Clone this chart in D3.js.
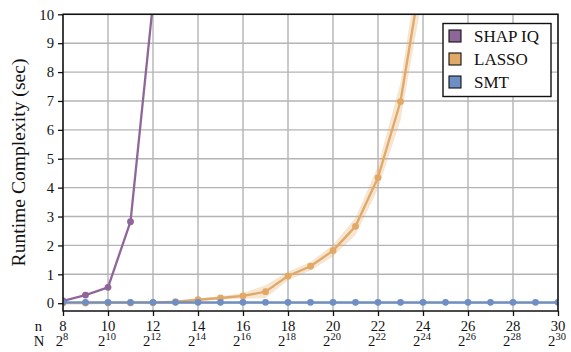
<!DOCTYPE html>
<html>
<head>
<meta charset="utf-8">
<script src="https://cdn.jsdelivr.net/npm/d3@7"></script>
<style>
  html, body { margin: 0; padding: 0; background: #fff; }
  svg { display: block; }
</style>
</head>
<body>
<svg id="chart" width="571" height="352"></svg>
<script>
// Problem size n (N = 2^n)
const nValues = d3.range(8, 31);
const xTickValues = [8, 10, 12, 14, 16, 18, 20, 22, 24, 26, 28, 30];
const yTickValues = [0, 1, 2, 3, 4, 5, 6, 7, 8, 9, 10];

// Runtime in seconds per method
const shapN = [8, 9, 10, 11, 12];
const shapTime = [0.08, 0.28, 0.55, 2.82, 10.4];

const lassoN = [8, 9, 10, 11, 12, 13, 14, 15, 16, 17, 18, 19, 20, 21, 22, 23, 24];
const lassoTime = [0.005, 0.005, 0.008, 0.01, 0.015, 0.05, 0.12, 0.18, 0.25, 0.40, 0.94, 1.28, 1.82, 2.66, 4.35, 6.98, 11.7];
const lassoStd = [0.005, 0.005, 0.005, 0.01, 0.01, 0.02, 0.04, 0.06, 0.1, 0.22, 0.15, 0.15, 0.2, 0.3, 0.4, 0.65, 1.0];

const smtN = nValues;
const smtTime = [0.03, 0.03, 0.03, 0.03, 0.03, 0.03, 0.03, 0.03, 0.03, 0.03, 0.03, 0.03, 0.03, 0.03, 0.03, 0.03, 0.03, 0.03, 0.03, 0.03, 0.03, 0.03, 0.03];

const seriesNames = ["SHAP IQ", "LASSO", "SMT"];
const seriesColors = ["#8e6699", "#e2a866", "#6d8fc6"];

const serif = "Liberation Serif";
const ink = "#111";

const svg = d3.select("#chart");
const plotLeft = 63, plotRight = 558, plotTop = 14.3, plotBottom = 311;

const x = d3.scaleLinear().domain([8, 30]).range([plotLeft, plotRight]);
const y = d3.scaleLinear().domain([-0.27, 10]).range([plotBottom, plotTop]);

svg.append("defs").append("clipPath").attr("id", "plotClip")
  .append("rect").attr("x", plotLeft).attr("y", plotTop)
  .attr("width", plotRight - plotLeft).attr("height", plotBottom - plotTop);

// Grid
const grid = svg.append("g").attr("stroke", "#b4b4b4").attr("stroke-width", 1.4);
grid.selectAll("line.v").data(xTickValues).join("line")
  .attr("x1", d => x(d)).attr("x2", d => x(d)).attr("y1", plotTop).attr("y2", plotBottom);
grid.selectAll("line.h").data(yTickValues).join("line")
  .attr("x1", plotLeft).attr("x2", plotRight).attr("y1", d => y(d)).attr("y2", d => y(d));

const plot = svg.append("g").attr("clip-path", "url(#plotClip)");

// LASSO spread band
const lassoRows = lassoN.map((n, i) => ({ n, v: lassoTime[i], s: lassoStd[i] }));
plot.append("path").datum(lassoRows)
  .attr("fill", seriesColors[1]).attr("fill-opacity", 0.3)
  .attr("d", d3.area().x(d => x(d.n)).y0(d => y(d.v - d.s)).y1(d => y(d.v + d.s)));

function drawSeries(ns, vals, color) {
  const rows = ns.map((n, i) => ({ n, v: vals[i] }));
  plot.append("path").datum(rows)
    .attr("fill", "none").attr("stroke", color).attr("stroke-width", 2.3)
    .attr("stroke-linejoin", "round")
    .attr("d", d3.line().x(d => x(d.n)).y(d => y(d.v)));
  plot.append("g").selectAll("circle").data(rows).join("circle")
    .attr("cx", d => x(d.n)).attr("cy", d => y(d.v)).attr("r", 3.4)
    .attr("fill", color);
}
drawSeries(lassoN, lassoTime, seriesColors[1]);
drawSeries(shapN, shapTime, seriesColors[0]);
drawSeries(smtN, smtTime, seriesColors[2]);

// Frame
svg.append("rect").attr("x", plotLeft).attr("y", plotTop)
  .attr("width", plotRight - plotLeft).attr("height", plotBottom - plotTop)
  .attr("fill", "none").attr("stroke", ink).attr("stroke-width", 1.5);

// Y axis
const yAxis = d3.axisLeft(y).tickValues(yTickValues).tickSize(5).tickPadding(4).tickFormat(d3.format("d"));
const yg = svg.append("g").attr("transform", `translate(${plotLeft},0)`).call(yAxis)
  .attr("font-family", serif).attr("font-size", 14.7);
yg.select(".domain").remove();
yg.selectAll(".tick line").attr("stroke", ink).attr("stroke-width", 1.3);
yg.selectAll(".tick text").attr("fill", ink);

// X axis: n row and N = 2^n row
const xAxis = d3.axisBottom(x).tickValues(xTickValues).tickSize(5).tickFormat(() => "");
const xg = svg.append("g").attr("transform", `translate(0,${plotBottom})`).call(xAxis);
xg.select(".domain").remove();
xg.selectAll(".tick line").attr("stroke", ink).attr("stroke-width", 1.3);

const labels = svg.append("g").attr("font-family", serif).attr("font-size", 14.7).attr("fill", ink);
labels.selectAll("text.n").data(xTickValues).join("text")
  .attr("x", d => x(d)).attr("y", 330.5).attr("text-anchor", "middle").text(d => d);
const pow = labels.selectAll("text.p").data(xTickValues).join("text")
  .attr("x", d => x(d) - 1).attr("y", 346).attr("text-anchor", "middle");
pow.append("tspan").text("2");
pow.append("tspan").attr("dy", -6).attr("font-size", 10.5).text(d => d);
labels.append("text").attr("x", 38.5).attr("y", 330.5).attr("text-anchor", "middle").text("n");
labels.append("text").attr("x", 39).attr("y", 346).attr("text-anchor", "middle").text("N");

// Y label
svg.append("text").attr("transform", "translate(24.5,162.5) rotate(-90)")
  .attr("font-family", serif).attr("fill", ink)
  .attr("text-anchor", "middle").attr("font-size", 19.6).text("Runtime Complexity (sec)");

// Legend
const lg = svg.append("g").attr("font-family", serif).attr("fill", ink);
lg.append("rect").attr("x", 443).attr("y", 23.5).attr("width", 108).attr("height", 73)
  .attr("fill", "#fff").attr("stroke", ink).attr("stroke-width", 1.4);
seriesNames.forEach((name, i) => {
  const cy = 36 + i * 23;
  lg.append("rect").attr("x", 449).attr("y", cy - 6).attr("width", 12).attr("height", 12)
    .attr("fill", seriesColors[i]).attr("stroke", ink).attr("stroke-width", 1.1);
  lg.append("text").attr("x", 474).attr("y", cy + 5.5).attr("font-size", 17).text(name);
});
</script>
</body>
</html>
